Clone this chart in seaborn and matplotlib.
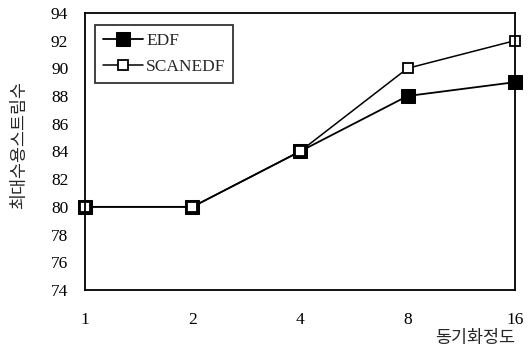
import numpy as np
import pandas as pd
import matplotlib
matplotlib.use("Agg")
import matplotlib.pyplot as plt
import seaborn as sns

sync_levels = ["1", "2", "4", "8", "16"]
edf = [80, 80, 84, 88, 89]
scanedf = [80, 80, 84, 90, 92]
y_ticks = list(range(74, 95, 2))

sns.set_theme(style="white")
plt.rcParams["font.family"] = ["Liberation Serif", "Noto Sans CJK KR"]

df = pd.DataFrame({
    "pos": list(range(len(sync_levels))) * 2,
    "value": edf + scanedf,
    "series": ["EDF"] * len(edf) + ["SCANEDF"] * len(scanedf),
})

fig = plt.figure(figsize=(5.31, 3.58), dpi=100)
ax = fig.add_axes([0.160, 0.190, 0.810, 0.774])

sns.lineplot(
    data=df[df["series"] == "EDF"], x="pos", y="value",
    color="black", linewidth=1.3, marker="s", markersize=9.5,
    markerfacecolor="black", markeredgecolor="black",
    label="EDF", ax=ax,
)
sns.lineplot(
    data=df[df["series"] == "SCANEDF"], x="pos", y="value",
    color="black", linewidth=1.1, marker="s", markersize=6.5,
    markerfacecolor="white", markeredgecolor="black", markeredgewidth=1.3,
    label="SCANEDF", ax=ax,
)
for line in ax.lines:
    line.set_clip_on(False)

ax.set_xlim(0, len(sync_levels) - 1)
ax.set_ylim(74, 94)
ax.set_xticks(range(len(sync_levels)))
ax.set_xticklabels(sync_levels)
ax.set_yticks(y_ticks)
ax.tick_params(axis="both", length=0, labelsize=12.5, colors="black")
ax.tick_params(axis="x", pad=16)
ax.tick_params(axis="y", pad=12)
for spine in ax.spines.values():
    spine.set_color("black")
    spine.set_linewidth(1.3)

ax.set_xlabel("")
ax.set_ylabel("최대수용스트림수", family=["Noto Sans CJK KR"], fontsize=12.5)
ax.yaxis.set_label_coords(-0.133, 0.525)
fig.text(0.970, 0.055, "동기화정도", ha="right", va="center",
         family=["Noto Sans CJK KR"], fontsize=12.5)

leg = ax.legend(loc="upper left", bbox_to_anchor=(0.023, 0.955), frameon=True,
                fancybox=False, edgecolor="black", fontsize=12.5,
                handlelength=2.3, handletextpad=0.2, borderpad=0.45,
                labelspacing=0.55, borderaxespad=0)
leg.get_frame().set_linewidth(1.3)

fig.savefig("out.png", dpi=100)
